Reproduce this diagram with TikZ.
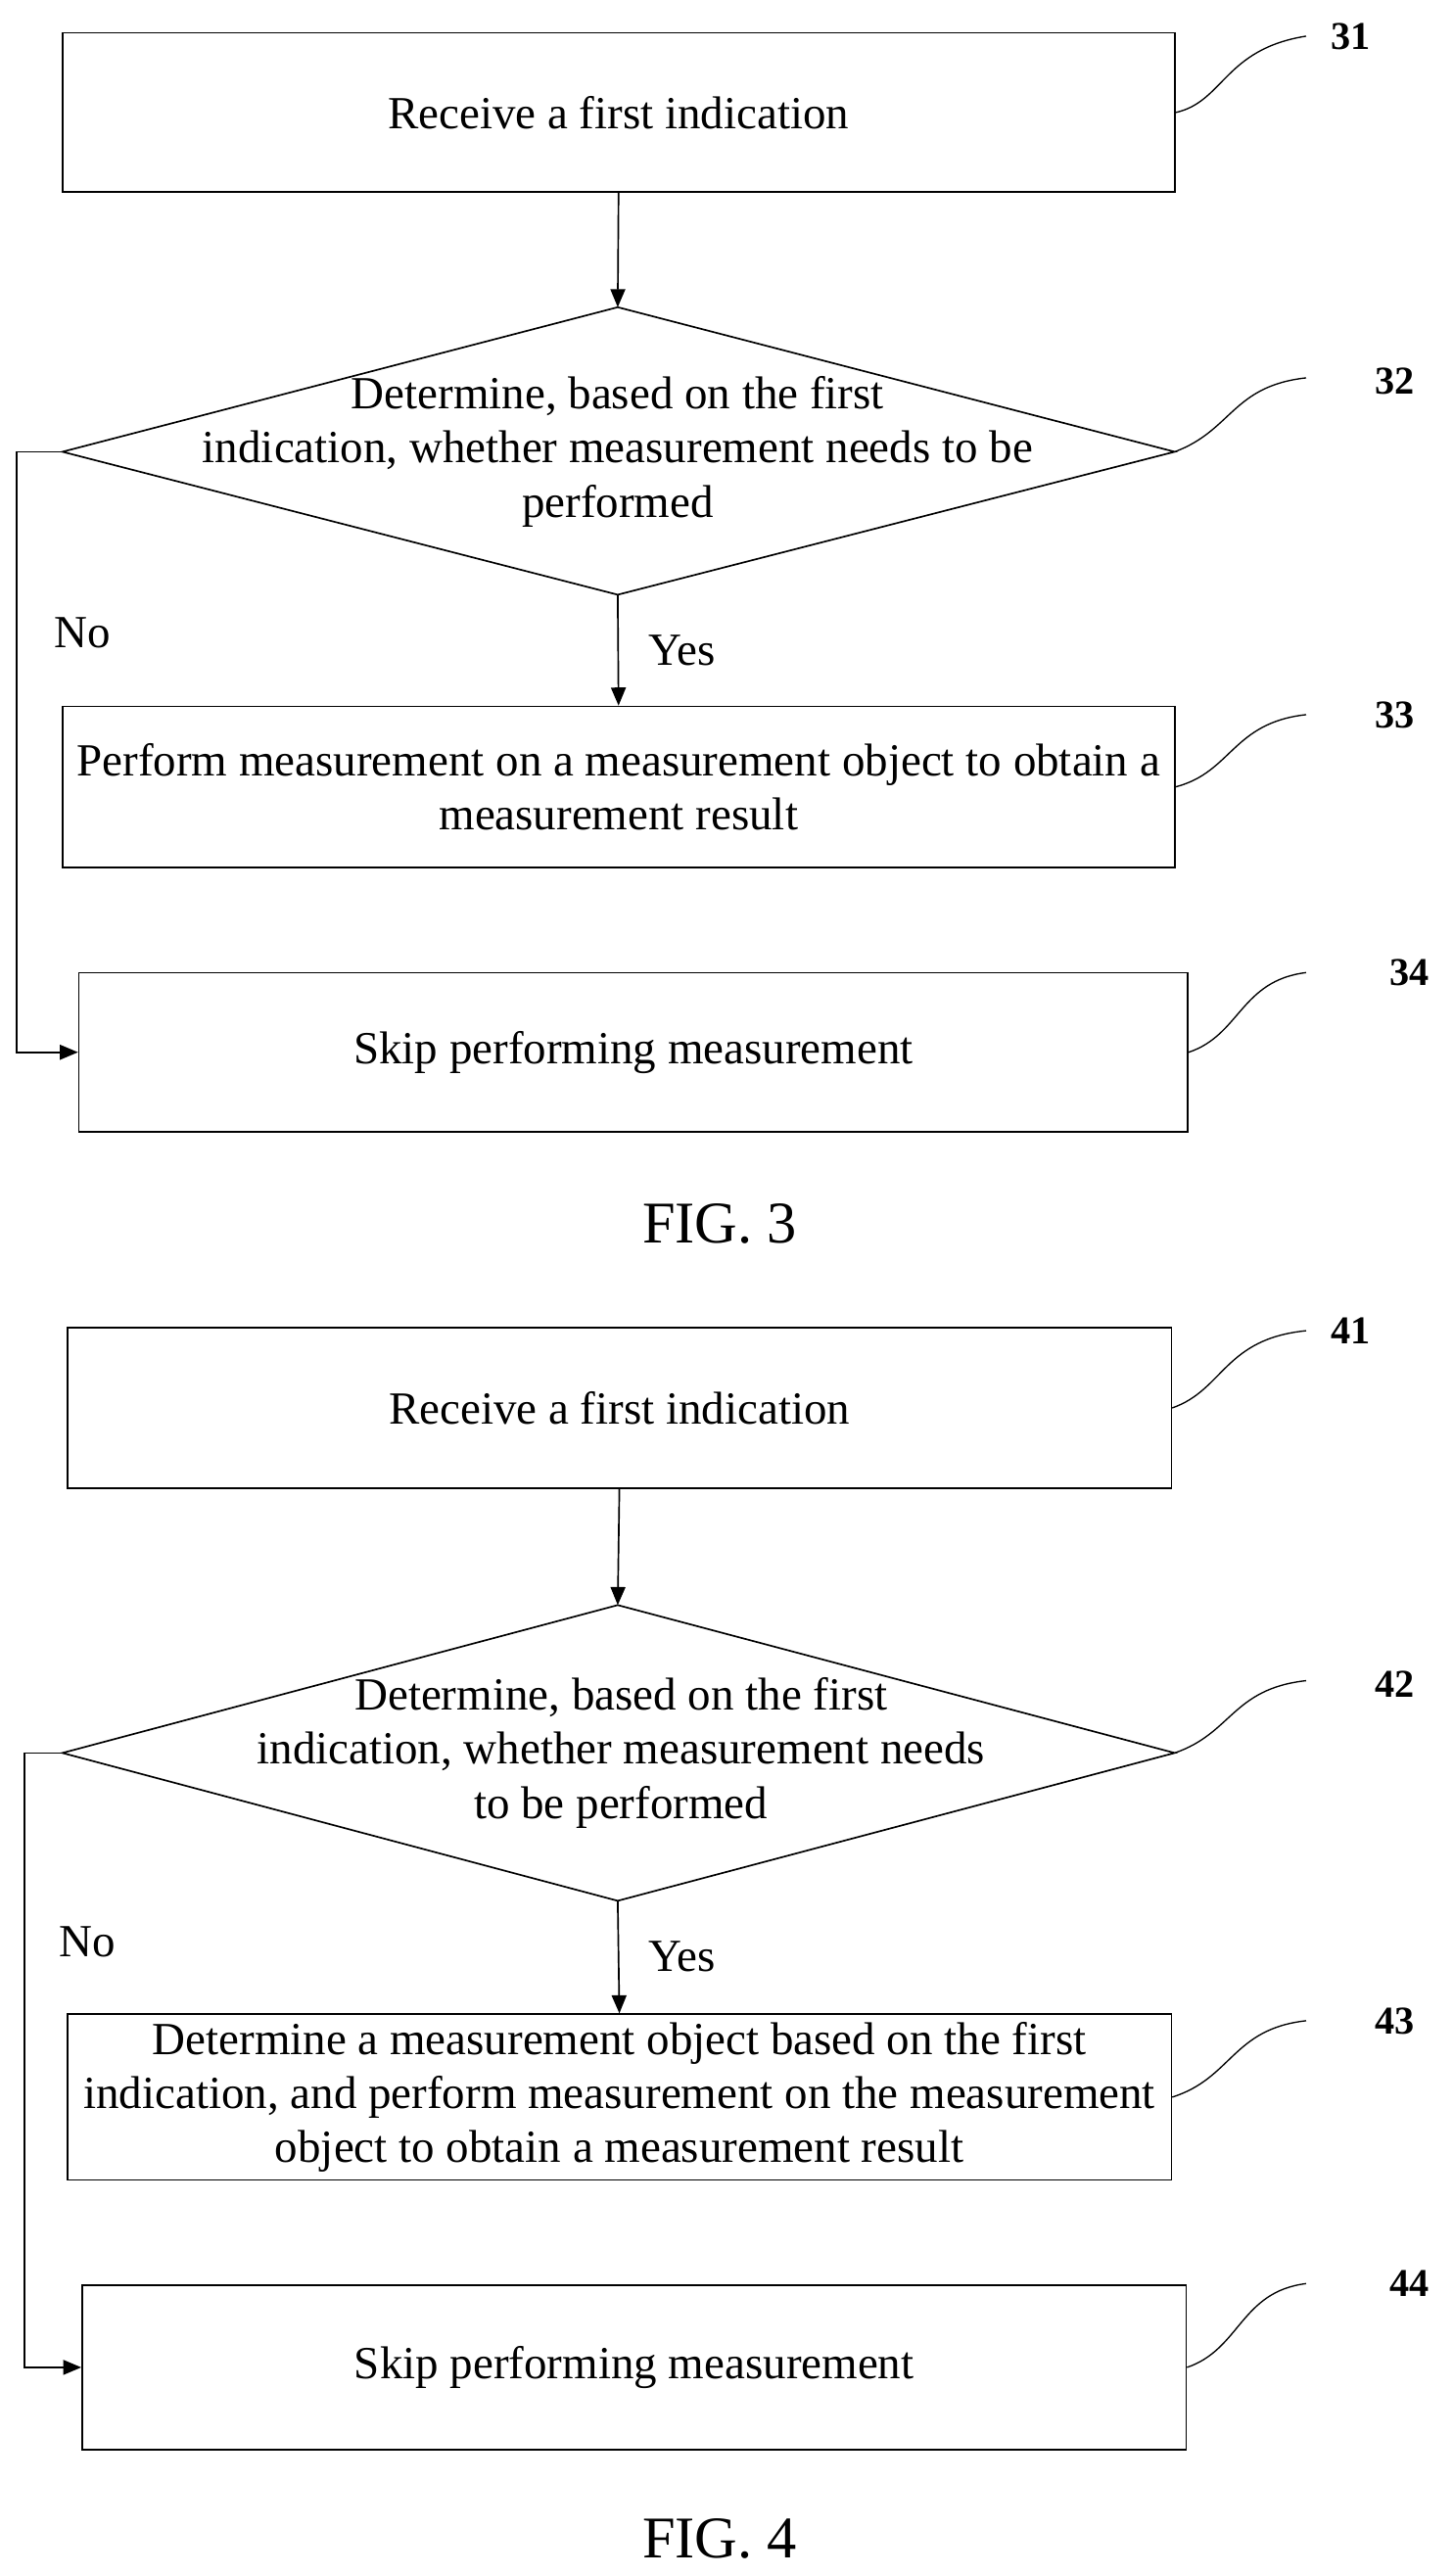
\documentclass[tikz,border=0pt]{standalone}
\usepackage{fontspec}
\setmainfont{Liberation Serif}
\usetikzlibrary{arrows.meta}
\begin{document}
\begin{tikzpicture}[x=1pt,y=-1pt,
 every node/.style={font=\fontsize{28}{33}\selectfont},
 box/.style={draw,line width=1pt,inner sep=0pt,align=center},
 lab/.style={font=\fontsize{24}{28}\selectfont\bfseries},
 fig/.style={font=\fontsize{36}{40}\selectfont},
 ln/.style={line width=1pt},
 arr/.style={line width=1pt,-{Triangle[length=11pt,width=9pt]}},
 sq/.style={line width=0.8pt}]
\useasboundingbox (0,0) rectangle (884,1568);
% ---------- FIG 3
\node[box,minimum width=677pt,minimum height=97pt] (b31) at (376.5,68.5) {Receive a first indication};
\draw[ln] (376,187)--(715,275)--(376,362)--(38,275)--cycle;
\coordinate (d32t) at (376,187); \coordinate (d32b) at (376,362);
\coordinate (d32l) at (38,275); \coordinate (d32r) at (715,275);
\node[align=center] (t32) at (376,275) {Determine, based on the first\\indication, whether measurement needs to be\\performed};
\node[box,minimum width=677pt,minimum height=98pt] (b33) at (376.5,479) {Perform measurement on a measurement object to obtain a\\measurement result};
\node[box,minimum width=675pt,minimum height=97pt] (b34) at (385.5,640.5) {Skip performing measurement};
\draw[arr] (b31.south)--(d32t);
\draw[arr] (d32b)--(b33.north);
\coordinate (n3) at (10,275);
\draw[arr] (d32l)--(n3)|-(b34.west);
\node (yes3) at (415,396) {Yes};
\node (no3) at (50,385) {No};
\node[lab] (l31) at (822,22) {31};
\node[lab] (l32) at (849,232) {32};
\node[lab] (l33) at (849,435) {33};
\node[lab] (l34) at (858,592) {34};
\coordinate (s31) at (795,22); \coordinate (s32) at (795,230);
\coordinate (s33) at (795,435); \coordinate (s34) at (795,592);
\draw[sq] (b31.east) .. controls (745,62) and (745,30) .. (s31);
\draw[sq] (d32r) .. controls (750,262) and (750,235) .. (s32);
\draw[sq] (b33.east) .. controls (750,470) and (750,440) .. (s33);
\draw[sq] (b34.east) .. controls (755,630) and (755,597) .. (s34);
\node[fig] (f3) at (438,745) {FIG. 3};
% ---------- FIG 4
\node[box,minimum width=672pt,minimum height=98pt] (b41) at (377,857) {Receive a first indication};
\draw[ln] (376,977)--(715,1067)--(376,1157)--(38,1067)--cycle;
\coordinate (d42t) at (376,977); \coordinate (d42b) at (376,1157);
\coordinate (d42l) at (38,1067); \coordinate (d42r) at (715,1067);
\node[align=center] (t42) at (378,1067) {Determine, based on the first\\indication, whether measurement needs\\to be performed};
\node[box,minimum width=672pt,minimum height=101pt] (b43) at (377,1276.5) {Determine a measurement object based on the first\\indication, and perform measurement on the measurement\\object to obtain a measurement result};
\node[box,minimum width=672pt,minimum height=100pt] (b44) at (386,1441) {Skip performing measurement};
\draw[arr] (b41.south)--(d42t);
\draw[arr] (d42b)--(b43.north);
\coordinate (n4) at (15,1067);
\draw[arr] (d42l)--(n4)|-(b44.west);
\node (yes4) at (415,1191) {Yes};
\node (no4) at (53,1182) {No};
\node[lab] (l41) at (822,810) {41};
\node[lab] (l42) at (849,1025) {42};
\node[lab] (l43) at (849,1230) {43};
\node[lab] (l44) at (858,1390) {44};
\coordinate (s41) at (795,810); \coordinate (s42) at (795,1023);
\coordinate (s43) at (795,1230); \coordinate (s44) at (795,1390);
\draw[sq] (b41.east) .. controls (745,846) and (745,815) .. (s41);
\draw[sq] (d42r) .. controls (750,1055) and (750,1028) .. (s42);
\draw[sq] (b43.east) .. controls (750,1265) and (750,1235) .. (s43);
\draw[sq] (b44.east) .. controls (755,1430) and (755,1395) .. (s44);
\node[fig] (f4) at (438,1545) {FIG. 4};
\end{tikzpicture}
\end{document}
